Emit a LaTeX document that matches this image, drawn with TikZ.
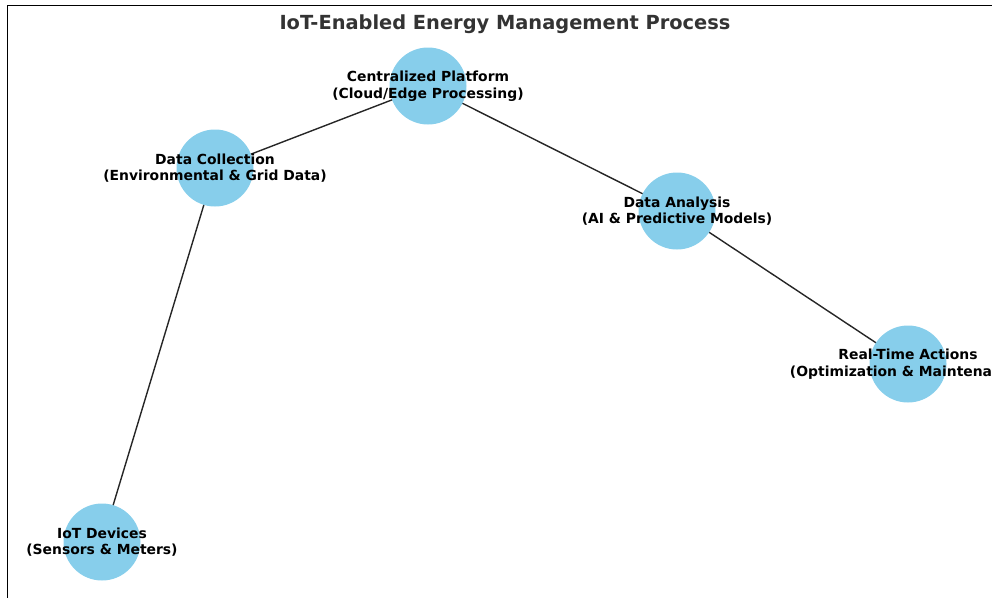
\documentclass[tikz,border=0pt]{standalone}
\usepackage{fontspec}
\setmainfont{DejaVu Sans}
\usepackage{tikz}
\usetikzlibrary{backgrounds}
\definecolor{skyblue}{HTML}{87CEEB}
\definecolor{titlegray}{HTML}{333333}
\tikzstyle{stage} = [circle, fill=skyblue, draw=none, minimum size=77pt, inner sep=0pt]
\tikzstyle{lbl} = [align=center, font=\fontsize{13.9}{16.6}\selectfont\bfseries, text=black]
\tikzstyle{link} = [draw=black!85, line width=1.4pt]

\begin{document}
\begin{tikzpicture}[x=1pt,y=-1pt]

\useasboundingbox (0,0) rectangle (992,597);
\clip (0,0) rectangle (992,597);
\draw[line width=1pt] (7,610) -- (7,5) -- (1000,5);

\node[font=\fontsize{19.4}{23}\selectfont\bfseries, text=titlegray] (title) at (505,24) {IoT-Enabled Energy Management Process};

\node[stage, label={[lbl]center:IoT Devices\\(Sensors \& Meters)}] (1) at (102,542) {};
\node[stage, label={[lbl]center:Data Collection\\(Environmental \& Grid Data)}] (2) at (215,168) {};
\node[stage, label={[lbl]center:Centralized Platform\\(Cloud/Edge Processing)}] (3) at (428,86) {};
\node[stage, label={[lbl]center:Data Analysis\\(AI \& Predictive Models)}] (4) at (677,211) {};
\node[stage, label={[lbl]center:Real-Time Actions\\(Optimization \& Maintenance)}] (5) at (908,364) {};

\begin{pgfonlayer}{background}
\path[link]
(1.center) edge [] (2.center)
(2.center) edge [] (3.center)
(3.center) edge [] (4.center)
(4.center) edge [] (5.center);
\end{pgfonlayer}

\end{tikzpicture}
\end{document}
